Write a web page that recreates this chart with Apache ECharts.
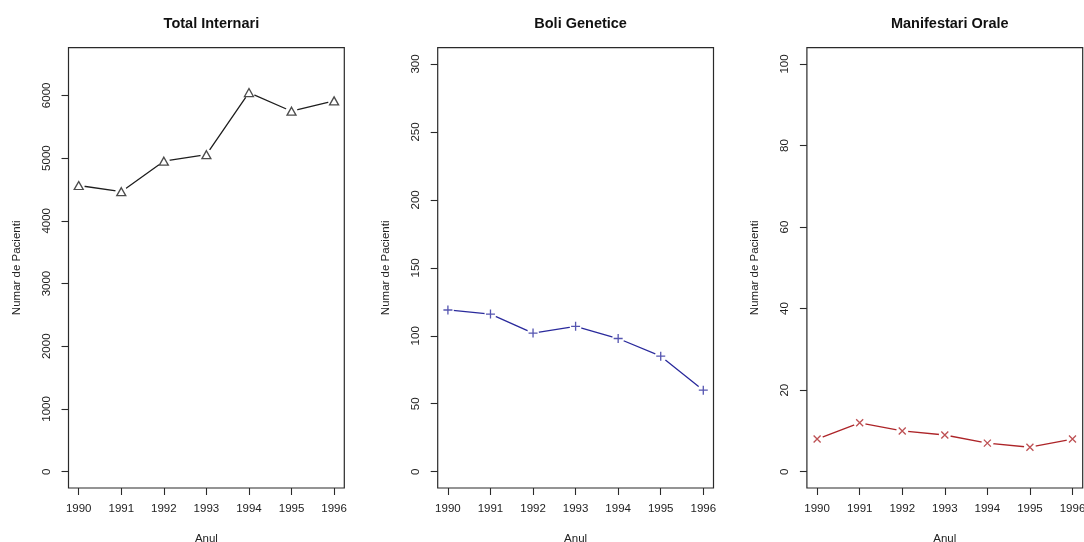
<!DOCTYPE html>
<html>
<head>
<meta charset="utf-8">
<script src="https://cdn.jsdelivr.net/npm/echarts@6/dist/echarts.min.js"></script>
<style>
html,body{margin:0;padding:0;background:#fff;}
#c{width:1084px;height:542px;}
</style>
</head>
<body>
<div id="c"></div>
<script>
// ---- data ----
const years = [1990, 1991, 1992, 1993, 1994, 1995, 1996];
const totalInternari = [4563, 4464, 4950, 5054, 6045, 5747, 5912];
const boliGenetice = [119, 116, 102, 107, 98, 85, 60];
const manifestariOrale = [8, 12, 10, 9, 7, 6, 8];
const panelTitles = ['Total Internari', 'Boli Genetice', 'Manifestari Orale'];
const yTicksTotal = [0, 1000, 2000, 3000, 4000, 5000, 6000];
const yTicksBoli = [0, 50, 100, 150, 200, 250, 300];
const yTicksOrale = [0, 20, 40, 60, 80, 100];
const xLabel = 'Anul';
const yLabel = 'Numar de Pacienti';

// ---- layout / style ----
const panelLefts = [68.5, 437.7, 806.9];
const plotW = 275.8, plotTop = 47.7, plotH = 440.3;
const yRanges = [[-260, 6760], [-12, 312], [-4, 104]];
const xRange = [1989.76, 1996.24];
const colors = ['#1e1e1e', '#2a2a9c', '#ad2428'];
const markers = [
  {symbol: 'triangle', size: [9, 8], fill: '#fff'},
  {symbol: 'path://M0,5L10,5M5,0L5,10', size: 9, fill: 'none'},
  {symbol: 'path://M0,0L10,10M10,0L0,10', size: 7, fill: 'none'}
];
const seriesValues = [totalInternari, boliGenetice, manifestariOrale];
const yTickSets = [yTicksTotal, yTicksBoli, yTicksOrale];
const FONT = '"Liberation Sans", Arial, Helvetica, sans-serif';
const txt = '#222';

const grids = [], xAxes = [], yAxes = [], series = [], titles = [];
for (let i = 0; i < 3; i++) {
  grids.push({
    left: panelLefts[i], top: plotTop, width: plotW, height: plotH,
    show: true, borderColor: '#2a2a2a', borderWidth: 1.2, backgroundColor: 'transparent',
    containLabel: false, outerBoundsMode: 'none'
  });
  xAxes.push({
    type: 'value', gridIndex: i, min: xRange[0], max: xRange[1],
    name: xLabel, nameLocation: 'middle', nameGap: 45,
    nameTextStyle: {fontFamily: FONT, fontSize: 11.5, color: txt},
    axisLine: {show: false, onZero: false},
    splitLine: {show: false},
    axisTick: {show: true, inside: false, length: 7, lineStyle: {color: '#2a2a2a', width: 1.1}, customValues: years},
    axisLabel: {show: true, margin: 15, fontFamily: FONT, fontSize: 11.5, color: txt,
      customValues: years, formatter: v => String(Math.round(v))}
  });
  yAxes.push({
    type: 'value', gridIndex: i, min: yRanges[i][0], max: yRanges[i][1],
    name: yLabel, nameLocation: 'middle', nameGap: 46,
    nameTextStyle: {fontFamily: FONT, fontSize: 11.5, color: txt},
    axisLine: {show: false, onZero: false},
    splitLine: {show: false},
    axisTick: {show: true, inside: false, length: 7, lineStyle: {color: '#2a2a2a', width: 1.1}, customValues: yTickSets[i]},
    axisLabel: {show: true, rotate: 90, margin: 16, fontFamily: FONT, fontSize: 11.5, color: txt,
      customValues: yTickSets[i], formatter: v => String(Math.round(v))}
  });
  const pts = years.map((y, k) => [y, seriesValues[i][k]]);
  // line with gaps around points (R type="b")
  series.push({
    type: 'line', xAxisIndex: i, yAxisIndex: i, data: pts,
    lineStyle: {color: colors[i], width: 1.3},
    symbol: 'circle', symbolSize: 12,
    itemStyle: {color: '#fff', borderWidth: 0},
    emphasis: {disabled: true}, animation: false, z: 2
  });
  series.push({
    type: 'scatter', xAxisIndex: i, yAxisIndex: i, data: pts,
    symbol: markers[i].symbol, symbolSize: markers[i].size,
    itemStyle: {color: markers[i].fill, borderColor: colors[i], borderWidth: 1.3},
    emphasis: {disabled: true}, animation: false, z: 3
  });
  titles.push({
    text: panelTitles[i], left: panelLefts[i] + plotW / 2, top: 11, textAlign: 'center',
    textStyle: {fontFamily: FONT, fontSize: 14.5, fontWeight: 'bold', color: '#111'}
  });
}

const chart = echarts.init(document.getElementById('c'), null, {renderer: 'canvas'});
chart.setOption({
  backgroundColor: '#fff',
  animation: false,
  title: titles,
  grid: grids,
  xAxis: xAxes,
  yAxis: yAxes,
  series: series
});
</script>
</body>
</html>
